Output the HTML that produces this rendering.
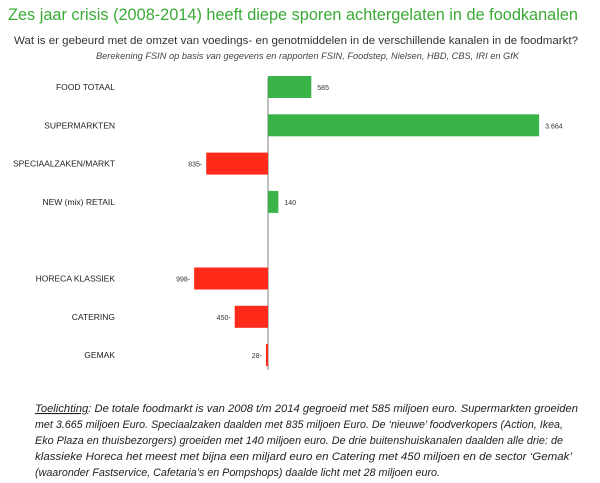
<!DOCTYPE html>
<html><head><meta charset="utf-8"><style>
body{margin:0;background:#fff;}
svg{display:block;font-family:"Liberation Sans",sans-serif;}
</style></head><body>
<svg id="chart" width="600" height="483" viewBox="0 0 600 483">
<text x="8" y="20" font-size="17" fill="#3aaa35" textLength="570" lengthAdjust="spacingAndGlyphs">Zes jaar crisis (2008-2014) heeft diepe sporen achtergelaten in de foodkanalen</text>
<text x="14" y="44" font-size="11" fill="#333" textLength="564" lengthAdjust="spacingAndGlyphs">Wat is er gebeurd met de omzet van voedings- en genotmiddelen in de verschillende kanalen in de foodmarkt?</text>
<text x="96" y="59" font-size="9" font-style="italic" fill="#444" textLength="423" lengthAdjust="spacingAndGlyphs">Berekening FSIN op basis van gegevens en rapporten FSIN, Foodstep, Nielsen, HBD, CBS, IRI en GfK</text>
<g id="bars"></g>
<g font-size="11" font-style="italic" fill="#222">
<text x="35" y="412" textLength="543" lengthAdjust="spacingAndGlyphs"><tspan text-decoration="underline">Toelichting</tspan>: De totale foodmarkt is van 2008 t/m 2014 gegroeid met 585 miljoen euro. Supermarkten groeiden</text>
<text x="35" y="428" textLength="528" lengthAdjust="spacingAndGlyphs">met 3.665 miljoen Euro. Speciaalzaken daalden met 835 miljoen Euro. De ‘nieuwe’ foodverkopers (Action, Ikea,</text>
<text x="35" y="444" textLength="528" lengthAdjust="spacingAndGlyphs">Eko Plaza en thuisbezorgers) groeiden met 140 miljoen euro. De drie buitenshuiskanalen daalden alle drie: de</text>
<text x="35" y="460" textLength="537" lengthAdjust="spacingAndGlyphs">klassieke Horeca het meest met bijna een miljard euro en Catering met 450 miljoen en de sector ‘Gemak’</text>
<text x="35" y="476" textLength="405" lengthAdjust="spacingAndGlyphs">(waaronder Fastservice, Cafetaria’s en Pompshops) daalde licht met 28 miljoen euro.</text>
</g>
</svg>
<script>
const categories=["FOOD TOTAAL","SUPERMARKTEN","SPECIAALZAKEN/MARKT","NEW (mix) RETAIL","HORECA KLASSIEK","CATERING","GEMAK"];
const values=[585,3664,-835,140,-998,-450,-28];
const valueLabels=["585","3.664","835-","140","998-","450-","28-"];
const slots=[0,1,2,3,5,6,7];
const NS="http://www.w3.org/2000/svg";
const g=document.getElementById('bars');
const zeroX=268, scale=0.074;
function xPos(v){return zeroX+v*scale;}
function yPos(s){return 87+s*38.3;}
function mk(t,a){const e=document.createElementNS(NS,t);for(const k in a)e.setAttribute(k,a[k]);return e;}
const axis=mk('line',{x1:zeroX,y1:78,x2:zeroX,y2:370,stroke:'#aaa','stroke-width':1.5});


g.appendChild(axis);
categories.forEach((c,i)=>{
  const v=values[i], y=yPos(slots[i]);
  const x0=Math.min(xPos(0),xPos(v)), w=Math.abs(xPos(v)-xPos(0));
  const r=mk('rect',{x:x0,y:y-11,width:Math.max(w,1.5),height:22,fill:v>=0?'#3ab449':'#ff2a1a'});
  
  
  g.appendChild(r);
  const l=mk('text',{x:115,y:y+3,'font-size':8.5,fill:'#222','text-anchor':'end'});
  l.textContent=c;
  
  
  g.appendChild(l);
  const vl=mk('text',{x:v>=0?xPos(v)+6:xPos(v)-4,y:y+3,'font-size':7,fill:'#333','text-anchor':v>=0?'start':'end'});
  vl.textContent=valueLabels[i];
  
  
  g.appendChild(vl);
});
</script>
</body></html>
